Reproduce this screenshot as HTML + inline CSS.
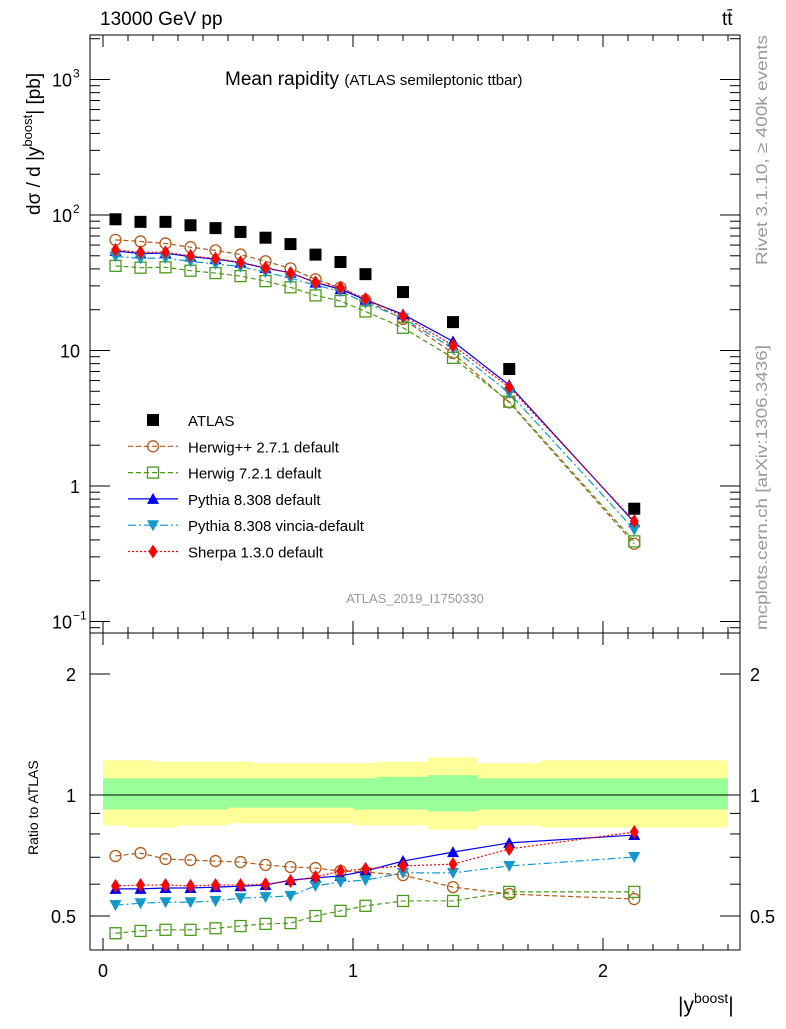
<!DOCTYPE html>
<html><head><meta charset="utf-8"><style>
body{margin:0;background:#fff;font-family:"Liberation Sans",sans-serif}
svg text{font-family:"Liberation Sans","DejaVu Sans",sans-serif}
</style></head><body>
<svg id="c" width="786" height="1024" xmlns="http://www.w3.org/2000/svg"></svg>
<script>
const xCenters=[0.05,0.15,0.25,0.35,0.45,0.55,0.65,0.75,0.85,0.95,1.05,1.2,1.4,1.625,2.125];
const binEdges=[0,0.1,0.2,0.3,0.4,0.5,0.6,0.7,0.8,0.9,1.0,1.1,1.3,1.5,1.75,2.5];
const atlas=[93,89,89,84,80,75,68,61,51,45,36.6,27,16.2,7.3,0.68];
const yellowHi=[1.22,1.22,1.21,1.21,1.21,1.21,1.2,1.2,1.2,1.2,1.2,1.21,1.24,1.2,1.22];
const yellowLo=[0.84,0.83,0.83,0.84,0.84,0.85,0.85,0.85,0.85,0.85,0.84,0.84,0.82,0.84,0.83];
const greenHi=[1.1,1.1,1.1,1.1,1.1,1.1,1.1,1.1,1.1,1.1,1.1,1.11,1.12,1.1,1.1];
const greenLo=[0.92,0.92,0.92,0.92,0.92,0.93,0.93,0.93,0.93,0.93,0.92,0.92,0.91,0.92,0.92];
const rHerwigpp=[0.705,0.717,0.693,0.689,0.685,0.681,0.67,0.662,0.658,0.647,0.643,0.632,0.59,0.567,0.551];
const rHerwig7=[0.453,0.459,0.462,0.462,0.466,0.472,0.478,0.48,0.5,0.515,0.53,0.545,0.545,0.574,0.574];
const rPythia=[0.584,0.584,0.587,0.587,0.59,0.593,0.597,0.614,0.622,0.629,0.647,0.685,0.721,0.76,0.795];
const rVincia=[0.532,0.538,0.541,0.541,0.545,0.554,0.557,0.561,0.594,0.608,0.614,0.64,0.64,0.666,0.701];
const rSherpa=[0.594,0.597,0.597,0.594,0.597,0.597,0.6,0.611,0.625,0.647,0.655,0.666,0.673,0.734,0.809];

const svg=document.getElementById('c');const NS='http://www.w3.org/2000/svg';
function el(t,a,p){const e=document.createElementNS(NS,t);for(const k in a)e.setAttribute(k,a[k]);(p||svg).appendChild(e);return e;}
const L=90,R=740,T1=35,B1=633,B2=950;
const X=v=>103+250*v;
const Y1=v=>486-135.5*Math.log10(v);
const Y2=v=>795-121*Math.log2(v);
for(let i=0;i<xCenters.length;i++){
 const x0=X(binEdges[i]),x1=X(binEdges[i+1]);
 let r=el('rect',{x:x0,y:Y2(yellowHi[i]),width:x1-x0,height:Y2(yellowLo[i])-Y2(yellowHi[i]),fill:'#ffff99'});
 
 r=el('rect',{x:x0,y:Y2(greenHi[i]),width:x1-x0,height:Y2(greenLo[i])-Y2(greenHi[i]),fill:'#99ff99'});
 
}
el('line',{x1:L,x2:R,y1:Y2(1),y2:Y2(1),stroke:'#000','stroke-width':1});
let f=el('rect',{x:L,y:T1,width:R-L,height:B1-T1,fill:'none',stroke:'#000'});
f=el('rect',{x:L,y:B1,width:R-L,height:B2-B1,fill:'none',stroke:'#000'});
for(let k=0;k<=25;k++){const v=k/10,x=X(v);if(x>R)break;const maj=k%10==0,len=maj?12:6;
 [[T1,1],[B1,-1],[B1,1],[B2,-1]].forEach(([y,d])=>el('line',{x1:x,x2:x,y1:y,y2:y+d*len,stroke:'#000'}));
 if(maj){const t=el('text',{x:x,y:977,'font-size':18,'text-anchor':'middle'});t.textContent=k/10;}}
for(let e=-2;e<=3;e++)for(let m=1;m<10;m++){const v=m*Math.pow(10,e),y=Y1(v);if(y<T1||y>B1)continue;const len=m==1?20:10;
 el('line',{x1:L,x2:L+len,y1:y,y2:y,stroke:'#000'});el('line',{x1:R,x2:R-len,y1:y,y2:y,stroke:'#000'});}
[[0.1,'10','−1'],[1,'1',''],[10,'10',''],[100,'10','2'],[1000,'10','3']].forEach(([v,b,s])=>{const t=el('text',{x:s?72:80,y:Y1(v)+7,'font-size':18,'text-anchor':'end'});t.textContent=b;
 
 if(s){const u=el('text',{x:73,y:Y1(v)-2,'font-size':12});u.textContent=s;}});
[0.5,0.6,0.7,0.8,0.9,1,2].forEach(v=>{const y=Y2(v),len=(v==1||v==2||v==0.5)?20:10;el('line',{x1:L,x2:L+len,y1:y,y2:y,stroke:'#000'});el('line',{x1:R,x2:R-len,y1:y,y2:y,stroke:'#000'});});
[[0.5,'0.5'],[1,'1'],[2,'2']].forEach(([v,s])=>{let t=el('text',{x:76,y:Y2(v)+7,'font-size':18,'text-anchor':'end'});t.textContent=s;
 t=el('text',{x:750,y:Y2(v)+7,'font-size':18});t.textContent=s;});
function marker(type,x,y,c,g){
 if(type=='sq')return el('rect',{x:x-6,y:y-6,width:12,height:12,fill:'#000'},g);
 if(type=='circ')return el('circle',{cx:x,cy:y,r:5.5,fill:'none',stroke:c,'stroke-width':1.3},g);
 if(type=='osq')return el('rect',{x:x-5.5,y:y-5.5,width:11,height:11,fill:'none',stroke:c,'stroke-width':1.3},g);
 if(type=='tri')return el('polygon',{points:`${x},${y-6} ${x-6},${y+5} ${x+6},${y+5}`,fill:c},g);
 if(type=='itri')return el('polygon',{points:`${x},${y+6} ${x-6},${y-5} ${x+6},${y-5}`,fill:c},g);
 if(type=='dia')return el('polygon',{points:`${x},${y-7} ${x-4.5},${y} ${x},${y+7} ${x+4.5},${y}`,fill:c},g);
}
const series=[
 {name:'herwigpp',r:rHerwigpp,c:'#b25a1b',m:'circ',d:'5,3',label:'Herwig++ 2.7.1 default'},
 {name:'herwig7',r:rHerwig7,c:'#4c9a1a',m:'osq',d:'5,3',label:'Herwig 7.2.1 default'},
 {name:'pythia',r:rPythia,c:'#0000ee',m:'tri',d:'',label:'Pythia 8.308 default'},
 {name:'vincia',r:rVincia,c:'#1199cc',m:'itri',d:'8,3,2,3',label:'Pythia 8.308 vincia-default'},
 {name:'sherpa',r:rSherpa,c:'#ff0000',m:'dia',d:'2,2',label:'Sherpa 1.3.0 default'}];
series.forEach(s=>{
 const g=el('g',{});
 const pm=xCenters.map((x,i)=>X(x)+','+Y1(s.r[i]*atlas[i])).join(' ');
 const pr=xCenters.map((x,i)=>X(x)+','+Y2(s.r[i])).join(' ');
 el('polyline',{points:pm,fill:'none',stroke:s.c,'stroke-width':1.2,'stroke-dasharray':s.d},g);
 el('polyline',{points:pr,fill:'none',stroke:s.c,'stroke-width':1.2,'stroke-dasharray':s.d},g);
 xCenters.forEach((x,i)=>{marker(s.m,X(x),Y1(s.r[i]*atlas[i]),s.c,g);marker(s.m,X(x),Y2(s.r[i]),s.c,g);});
});
const ga=el('g',{});
xCenters.forEach((x,i)=>marker('sq',X(x),Y1(atlas[i]),'#000',ga));
const lg=el('g',{});
const rows=[{m:'sq',c:'#000',d:null,label:'ATLAS'}].concat(series);
rows.forEach((s,i)=>{const y=420+26.3*i;
 if(s.d!==null)el('line',{x1:128,x2:178,y1:y,y2:y,stroke:s.c,'stroke-width':1.2,'stroke-dasharray':s.d},lg);
 marker(s.m,153,y,s.c,lg);
 const t=el('text',{x:188,y:y+6,'font-size':15},lg);t.textContent=s.label;});
function txt(x,y,s,a,name){const t=el('text',Object.assign({x:x,y:y},a));t.innerHTML=s;return t;}
txt(100,25,'13000 GeV pp',{'font-size':19},'energy-label');
txt(722,25,'t<tspan>t̄</tspan>',{'font-size':19},'process-label');
txt(225,85,'Mean rapidity <tspan font-size="15">(ATLAS semileptonic ttbar)</tspan>',{'font-size':19},'chart-title');
txt(415,603,'ATLAS_2019_I1750330',{'font-size':13,fill:'#999','text-anchor':'middle'},'analysis-id');
txt(40,215,'dσ / d |y<tspan font-size="13" dy="-8">boost</tspan><tspan dy="8">| [pb]</tspan>',{'font-size':19,transform:'rotate(-90 40 215)'},'y-axis-title');
txt(38,855,'Ratio to ATLAS',{'font-size':14,transform:'rotate(-90 38 855)'},'ratio-axis-title');
txt(678,1012,'|y<tspan font-size="14" dy="-9">boost</tspan><tspan dy="9">|</tspan>',{'font-size':21},'x-axis-title');
txt(767,265,'Rivet 3.1.10, ≥ 400k events',{'font-size':16,fill:'#999',transform:'rotate(-90 767 265)',textLength:230,lengthAdjust:'spacingAndGlyphs'},'rivet-label');
txt(767,630,'mcplots.cern.ch [arXiv:1306.3436]',{'font-size':16,fill:'#999',transform:'rotate(-90 767 630)',textLength:285,lengthAdjust:'spacingAndGlyphs'},'mcplots-label');
</script></body></html>
